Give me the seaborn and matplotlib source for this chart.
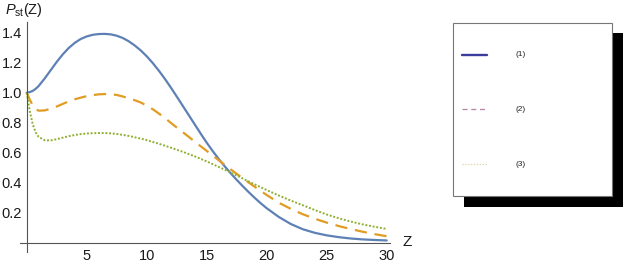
import numpy as np
import pandas as pd
import matplotlib
matplotlib.use("Agg")
import matplotlib.pyplot as plt
from matplotlib.patches import Rectangle
from matplotlib.lines import Line2D
from matplotlib.ticker import FixedLocator
import seaborn as sns

# ---------------- data ----------------
z_vals = [0, 0.25, 0.5, 0.75, 1,
          1.5, 2, 2.5, 3, 3.5, 4, 4.5, 5, 5.5, 6, 6.5, 7, 7.5, 8, 8.5, 9,
          9.5, 10, 10.5, 11, 11.5, 12, 12.5, 13, 13.5, 14, 14.5, 15, 15.5,
          16, 16.5, 17, 17.5, 18, 18.5, 19, 19.5, 20,
          21, 22, 23, 24, 25, 26, 27, 28, 29, 30]
p1 = [1.000, 1.004, 1.012, 1.026, 1.045,
      1.095, 1.150, 1.205, 1.255, 1.298, 1.332, 1.358, 1.375, 1.386, 1.391,
      1.392, 1.389, 1.380, 1.365, 1.343, 1.315, 1.282, 1.243, 1.198, 1.148,
      1.094, 1.036, 0.975, 0.913, 0.851, 0.789, 0.727, 0.667, 0.611, 0.558,
      0.509, 0.463, 0.419, 0.377, 0.337, 0.299, 0.263, 0.230,
      0.172, 0.125, 0.090, 0.066, 0.049, 0.037, 0.028, 0.022, 0.018, 0.015]
p2 = [1.000, 0.955, 0.915, 0.890, 0.880,
      0.882, 0.893, 0.908, 0.925, 0.942, 0.956, 0.967, 0.977, 0.984, 0.989,
      0.991, 0.990, 0.985, 0.975, 0.962, 0.950, 0.935, 0.914, 0.890, 0.862,
      0.832, 0.800, 0.768, 0.737, 0.706, 0.674, 0.643, 0.612, 0.581, 0.550,
      0.519, 0.489, 0.459, 0.430, 0.401, 0.373, 0.345, 0.318,
      0.267, 0.226, 0.190, 0.160, 0.134, 0.111, 0.091, 0.073, 0.057, 0.043]
p3 = [1.000, 0.880, 0.790, 0.735, 0.705,
      0.683, 0.682, 0.690, 0.700, 0.710, 0.718, 0.724, 0.728, 0.730, 0.731,
      0.731, 0.729, 0.725, 0.719, 0.712, 0.703, 0.694, 0.684, 0.672, 0.660,
      0.647, 0.634, 0.620, 0.606, 0.591, 0.576, 0.559, 0.542, 0.524, 0.505,
      0.487, 0.467, 0.448, 0.428, 0.408, 0.389, 0.370, 0.351,
      0.315, 0.281, 0.250, 0.218, 0.188, 0.163, 0.141, 0.122, 0.106, 0.092]
series_names = ["(1)", "(2)", "(3)"]
x_ticks = [5, 10, 15, 20, 25, 30]
y_ticks = [0.2, 0.4, 0.6, 0.8, 1.0, 1.2, 1.4]

# ---------------- style ----------------
sns.set_style("white")
plt.rcParams["font.family"] = ["Liberation Sans", "DejaVu Sans"]
plt.rcParams["mathtext.fontset"] = "custom"
plt.rcParams["mathtext.rm"] = "Liberation Sans"
plt.rcParams["mathtext.it"] = "Liberation Sans:italic"

curve_colors = ["#5E81B5", "#E19C24", "#8FB032"]
legend_colors = ["#3C3C9C", "#B585A8", "#D9D4A3"]

W, H = 623, 262
fig = plt.figure(figsize=(W / 100, H / 100), dpi=100)

# axes placed in pixel terms
left_px, right_px = 20.0, 390.5
bottom_px, top_px = 252.0, 22.0
ax = fig.add_axes([left_px / W, (H - bottom_px) / H,
                   (right_px - left_px) / W, (bottom_px - top_px) / H])

x0_px, y0_px, sx, sy = 26.7, 242.7, 12.0, 150.0
ax.set_xlim((left_px - x0_px) / sx, (right_px - x0_px) / sx)
ax.set_ylim((y0_px - bottom_px) / sy, (y0_px - top_px) / sy)

df = pd.DataFrame({"Z": z_vals * 3,
                   "P": p1 + p2 + p3,
                   "s": sum([[n] * len(z_vals) for n in series_names], [])})

styles = [dict(lw=1.6, ls="-"),
          dict(lw=1.6, ls=(0, (5.5, 3.5))),
          dict(lw=1.4, ls=(0, (1.0, 0.9)))]
for name, col, st in zip(series_names, curve_colors, styles):
    sub = df[df["s"] == name]
    sns.lineplot(data=sub, x="Z", y="P", ax=ax, color=col, linewidth=st["lw"],
                 linestyle=st["ls"], sort=False, estimator=None, legend=False)

# axes at the origin
for s in ["top", "right"]:
    ax.spines[s].set_visible(False)
for s in ["left", "bottom"]:
    ax.spines[s].set_position(("data", 0))
    ax.spines[s].set_color("#555555")
    ax.spines[s].set_linewidth(0.8)

ax.xaxis.set_major_locator(FixedLocator(x_ticks))
ax.yaxis.set_major_locator(FixedLocator(y_ticks))
ax.xaxis.set_minor_locator(FixedLocator([v for v in range(1, 31) if v % 5]))
ax.yaxis.set_minor_locator(FixedLocator(
    [round(0.05 * k, 2) for k in range(1, 30) if k % 4]))
ax.set_xticklabels([str(v) for v in x_ticks])
ax.set_yticklabels([f"{v:.1f}" for v in y_ticks])
ax.tick_params(which="both", direction="in", color="#555555", width=0.7,
               labelsize=10.5, labelcolor="#1a1a1a")
ax.tick_params(which="major", length=4)
ax.tick_params(which="minor", length=2.3)
ax.tick_params(axis="x", pad=4.5)
ax.tick_params(axis="y", pad=3.5)
ax.set_xlabel("")
ax.set_ylabel("")

# axis labels
fig.text(5 / W, (H - 14) / H, r"$P_{\mathrm{st}}(\mathrm{Z})$", fontsize=10.5,
         ha="left", va="baseline", color="#1a1a1a")
fig.text(406.7 / W, (H - 242.5) / H, "Z", fontsize=11, ha="center",
         va="center", color="#1a1a1a")

# ---------------- legend box with shadow ----------------
def px_rect(x1, y1, x2, y2, **kw):
    return Rectangle((x1 / W, (H - y2) / H), (x2 - x1) / W, (y2 - y1) / H,
                     transform=fig.transFigure, **kw)

fig.add_artist(px_rect(464.3, 33.3, 622.7, 206.7, facecolor="black",
                       edgecolor="none"))
fig.add_artist(px_rect(453.3, 22.7, 611.7, 195.7, facecolor="white",
                       edgecolor="#777777", linewidth=0.8))
leg_y = [55.0, 109.3, 164.0]
leg_styles = [dict(lw=1.7, ls="-"), dict(lw=0.9, ls=(0, (4, 3))),
              dict(lw=0.9, ls=(0, (1, 1.3)))]
for name, col, yy, st in zip(series_names, legend_colors, leg_y, leg_styles):
    fig.add_artist(Line2D([461.7 / W, 487.3 / W], [(H - yy) / H] * 2,
                          transform=fig.transFigure, color=col,
                          linewidth=st["lw"], linestyle=st["ls"]))
    fig.text(515 / W, (H - yy) / H, name, fontsize=6, ha="left",
             va="center", color="#222222")

fig.savefig("out.png", dpi=100)
